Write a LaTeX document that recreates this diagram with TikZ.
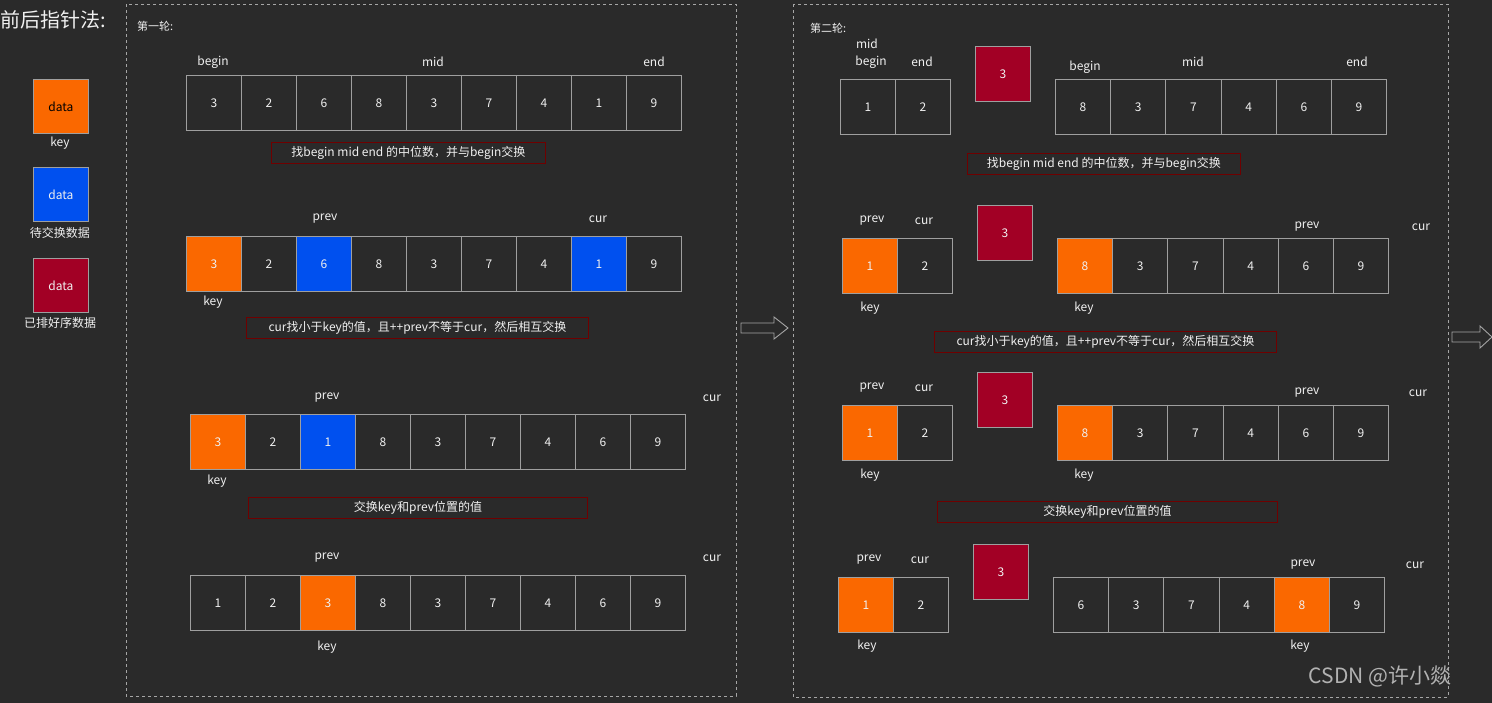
\documentclass[tikz,border=0pt]{standalone}
\usepackage{fontspec}
\setmainfont{Noto Sans CJK SC}
\definecolor{bg}{HTML}{2A2A2A}
\definecolor{korange}{HTML}{FA6800}
\definecolor{kblue}{HTML}{0050EF}
\definecolor{kred}{HTML}{A20025}
\definecolor{capred}{HTML}{6F0000}
\definecolor{txt}{HTML}{F0F0F0}
\tikzset{
  cell/.style={draw=gray!75,line width=0.9pt,minimum width=55pt,minimum height=55pt,inner sep=0pt,text=txt,font=\fontsize{12}{14}\selectfont},
  lbl/.style={text=txt,font=\fontsize{12}{14}\selectfont,inner sep=0pt},
  capbox/.style={draw=capred,line width=0.8pt,text=txt,font=\fontsize{12}{14}\selectfont,inner sep=0pt,anchor=north west},
  frame/.style={draw=gray!70,dashed,line width=0.9pt},
  hollow/.style={draw=gray!70,line width=0.9pt},
}
\newcommand{\cellrow}[5]{%
  \foreach \v/\c [count=\i from 0] in {#5}{%
    \node[cell,fill=\c,minimum width=#4pt,anchor=north west] (#1\i) at ({#2+\i*#4},#3) {\v};
  }%
}
\begin{document}
\begin{tikzpicture}[x=1pt,y=-1pt]
\fill[bg] (0,0) rectangle (1492,703);
\useasboundingbox (0,0) rectangle (1492,703);
\node[lbl,anchor=west,font=\fontsize{20}{22}\selectfont] (title) at (0,20) {前后指针法:};
\node[cell,fill=korange,text=black,minimum width=55pt,minimum height=54pt,anchor=north west] (lg1) at (33,79) {data};
\node[lbl] (lg1t) at (60,143) {key};
\node[cell,fill=kblue,minimum width=55pt,minimum height=54pt,anchor=north west] (lg2) at (33,167) {data};
\node[lbl] (lg2t) at (60,233) {待交换数据};
\node[cell,fill=kred,minimum width=55pt,minimum height=54pt,anchor=north west] (lg3) at (33,258) {data};
\node[lbl] (lg3t) at (60,323) {已排好序数据};
\draw[frame] (126,4) rectangle (736,696);
\draw[frame] (793,4) rectangle (1448,697);
\node[lbl,anchor=west,font=\fontsize{11}{13}\selectfont] (t1) at (137,26) {第一轮:};
\node[lbl,anchor=west,font=\fontsize{11}{13}\selectfont] (t2) at (810,28) {第二轮:};
\draw[hollow] (741,323) -- (774,323) -- (774,317) -- (788,328) -- (774,339) -- (774,333) -- (741,333) -- cycle;
\draw[hollow] (1452,332) -- (1480,332) -- (1480,326) -- (1492,337) -- (1480,348) -- (1480,342) -- (1452,342) -- cycle;
% round 1
\cellrow{a}{186}{75}{55}{3/bg,2/bg,6/bg,8/bg,3/bg,7/bg,4/bg,1/bg,9/bg}
\node[lbl] at (213,62) {begin};\node[lbl] at (433,62) {mid};\node[lbl] at (654,62) {end};
\node[capbox,minimum width=274pt,minimum height=21pt] (c1) at (271,142) {找begin mid end 的中位数，并与begin交换};
\cellrow{b}{186}{236}{55}{3/korange,2/bg,6/kblue,8/bg,3/bg,7/bg,4/bg,1/kblue,9/bg}
\node[lbl] at (325,219) {prev};\node[lbl] at (598,219) {cur};\node[lbl] at (213,302) {key};
\node[capbox,minimum width=342pt,minimum height=21pt] (c2) at (246,317) {cur找小于key的值，且++prev不等于cur，然后相互交换};
\cellrow{c}{190}{414}{55}{3/korange,2/bg,1/kblue,8/bg,3/bg,7/bg,4/bg,6/bg,9/bg}
\node[lbl] at (327,398) {prev};\node[lbl] at (712,398) {cur};\node[lbl] at (217,481) {key};
\node[capbox,minimum width=339pt,minimum height=21pt] (c3) at (248,497) {交换key和prev位置的值};
\cellrow{d}{190}{575}{55}{1/bg,2/bg,3/korange,8/bg,3/bg,7/bg,4/bg,6/bg,9/bg}
\node[lbl] at (327,558) {prev};\node[lbl] at (712,558) {cur};\node[lbl] at (327,647) {key};
% round 2
\cellrow{e}{840}{79}{55}{1/bg,2/bg}
\node[lbl] at (867,44) {mid};\node[lbl] at (871,62) {begin};\node[lbl] at (922,62) {end};
\node[cell,fill=kred,anchor=north west] (e3) at (975,46) {3};
\cellrow{f}{1055}{79}{55.2}{8/bg,3/bg,7/bg,4/bg,6/bg,9/bg}
\node[lbl] at (1085,67) {begin};\node[lbl] at (1193,62) {mid};\node[lbl] at (1357,62) {end};
\node[capbox,minimum width=273pt,minimum height=21pt] (c4) at (967,153) {找begin mid end 的中位数，并与begin交换};
\cellrow{g}{842}{238}{55}{1/korange,2/bg}
\node[lbl] at (872,221) {prev};\node[lbl] at (924,221) {cur};\node[lbl] at (870,308) {key};
\node[cell,fill=kred,anchor=north west] (g3) at (977,205) {3};
\cellrow{h}{1057}{238}{55.2}{8/korange,3/bg,7/bg,4/bg,6/bg,9/bg}
\node[lbl] at (1307,227) {prev};\node[lbl] at (1421,227) {cur};\node[lbl] at (1084,308) {key};
\node[capbox,minimum width=342pt,minimum height=21pt] (c5) at (934,331) {cur找小于key的值，且++prev不等于cur，然后相互交换};
\cellrow{i}{842}{405}{55}{1/korange,2/bg}
\node[lbl] at (872,388) {prev};\node[lbl] at (924,388) {cur};\node[lbl] at (870,475) {key};
\node[cell,fill=kred,anchor=north west] (i3) at (977,372) {3};
\cellrow{j}{1057}{405}{55.2}{8/korange,3/bg,7/bg,4/bg,6/bg,9/bg}
\node[lbl] at (1307,393) {prev};\node[lbl] at (1418,393) {cur};\node[lbl] at (1084,475) {key};
\node[capbox,minimum width=340pt,minimum height=21pt] (c6) at (937,501) {交换key和prev位置的值};
\cellrow{k}{838}{577}{55}{1/korange,2/bg}
\node[lbl] at (869,560) {prev};\node[lbl] at (920,560) {cur};\node[lbl] at (867,646) {key};
\node[cell,fill=kred,anchor=north west] (k3) at (973,544) {3};
\cellrow{l}{1053}{577}{55.2}{6/bg,3/bg,7/bg,4/bg,8/korange,9/bg}
\node[lbl] at (1303,565) {prev};\node[lbl] at (1415,565) {cur};\node[lbl] at (1300,646) {key};
\node[lbl,text=gray!60,font=\fontsize{21}{23}\selectfont] (wm) at (1380,676) {CSDN @许小燚};
\end{tikzpicture}
\end{document}
